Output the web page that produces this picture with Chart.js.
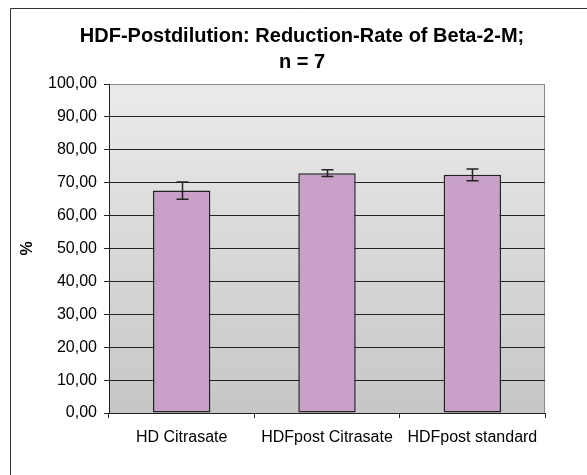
<!DOCTYPE html>
<html>
<head>
<meta charset="utf-8">
<script src="https://cdn.jsdelivr.net/npm/chart.js@4"></script>
<style>
  html, body { margin: 0; padding: 0; background: #fff; }
  canvas { display: block; }
</style>
</head>
<body>
<canvas id="chart" width="587" height="475"></canvas>
<script>
const categories = ["HD Citrasate", "HDFpost Citrasate", "HDFpost standard"];
const meanValues = [67.6, 72.9, 72.4];
const errorValues = [2.6, 1.0, 1.8];
const yTickLabels = ["0,00", "10,00", "20,00", "30,00", "40,00", "50,00",
  "60,00", "70,00", "80,00", "90,00", "100,00"];

const FONT = "'Liberation Sans', Arial, sans-serif";

// outer frame, plot gradient and plot border
const backdrop = {
  id: "backdrop",
  beforeDraw(chart) {
    const { ctx, chartArea: a } = chart;
    ctx.save();
    ctx.fillStyle = "#fff";
    ctx.fillRect(0, 0, chart.width, chart.height);
    ctx.strokeStyle = "#333";
    ctx.lineWidth = 1;
    ctx.beginPath();
    ctx.moveTo(10.5, chart.height);
    ctx.lineTo(10.5, 8.5);
    ctx.lineTo(chart.width, 8.5);
    ctx.stroke();
    const g = ctx.createLinearGradient(0, a.top, 0, a.bottom);
    g.addColorStop(0, "#ebebec");
    g.addColorStop(1, "#c6c6c6");
    ctx.fillStyle = g;
    ctx.fillRect(a.left, a.top, a.right - a.left, a.bottom - a.top);
    ctx.strokeStyle = "#8a8a8a";
    ctx.beginPath();
    ctx.moveTo(a.left, a.top + 0.5);
    ctx.lineTo(a.right - 0.5, a.top + 0.5);
    ctx.lineTo(a.right - 0.5, a.bottom);
    ctx.stroke();
    ctx.restore();
  }
};

// error bars from meanValues +/- errorValues
const errorBars = {
  id: "errorBars",
  afterDatasetsDraw(chart) {
    const { ctx } = chart;
    const y = chart.scales.y;
    const meta = chart.getDatasetMeta(0);
    ctx.save();
    ctx.strokeStyle = "#222";
    ctx.lineWidth = 1.5;
    meta.data.forEach((bar, i) => {
      const x = Math.round(bar.x) + 0.5;
      const hi = y.getPixelForValue(meanValues[i] + errorValues[i]);
      const lo = y.getPixelForValue(meanValues[i] - errorValues[i]);
      ctx.beginPath();
      ctx.moveTo(x, hi);
      ctx.lineTo(x, lo);
      ctx.moveTo(x - 6, hi);
      ctx.lineTo(x + 6, hi);
      ctx.moveTo(x - 6, lo);
      ctx.lineTo(x + 6, lo);
      ctx.stroke();
    });
    ctx.restore();
  }
};

new Chart(document.getElementById("chart").getContext("2d"), {
  type: "bar",
  data: {
    labels: categories,
    datasets: [{
      data: meanValues,
      backgroundColor: "#c8a0c8",
      borderColor: "#222",
      borderWidth: 1.5,
      borderSkipped: false,
      barPercentage: 0.395,
      categoryPercentage: 1
    }]
  },
  options: {
    responsive: false,
    devicePixelRatio: 1,
    animation: false,
    layout: { padding: { left: 20, right: 3, top: 0, bottom: 0 } },
    plugins: {
      legend: { display: false },
      tooltip: { enabled: false },
      title: {
        display: true,
        text: ["HDF-Postdilution: Reduction-Rate of Beta-2-M;", "n = 7"],
        color: "#000",
        font: { family: FONT, size: 20, weight: "bold", lineHeight: 1.3 },
        padding: { top: 23, bottom: 9 }
      }
    },
    scales: {
      x: {
        grid: {
          display: true,
          drawOnChartArea: false,
          drawTicks: true,
          tickLength: 5,
          color: "#222",
          offset: true
        },
        border: { display: true, color: "#222", width: 1 },
        ticks: {
          color: "#000",
          font: { family: FONT, size: 16 },
          padding: 10,
          maxRotation: 0
        },
        afterFit(scale) { scale.height = 62; }
      },
      y: {
        min: 0,
        max: 100,
        ticks: {
          stepSize: 10,
          color: "#000",
          font: { family: FONT, size: 16 },
          padding: 7,
          callback: (v, i) => yTickLabels[i]
        },
        grid: {
          color: ctx => (ctx.tick && ctx.tick.value === 100) ? "#8a8a8a" : "#222",
          tickColor: "#222",
          tickLength: 5,
          lineWidth: 1
        },
        border: { display: true, color: "#222", width: 1 },
        title: {
          display: true,
          text: "%",
          color: "#000",
          font: { family: FONT, size: 16, weight: "bold", lineHeight: 1 },
          padding: { top: 0, bottom: 0 }
        },
        afterFit(scale) { scale.width = 89; }
      },
      yr: {
        type: "linear",
        position: "right",
        min: 0,
        max: 1,
        grid: { display: false },
        border: { display: false },
        ticks: { display: false },
        afterFit(scale) { scale.width = 39; }
      }
    }
  },
  plugins: [backdrop, errorBars]
});
</script>
</body>
</html>
